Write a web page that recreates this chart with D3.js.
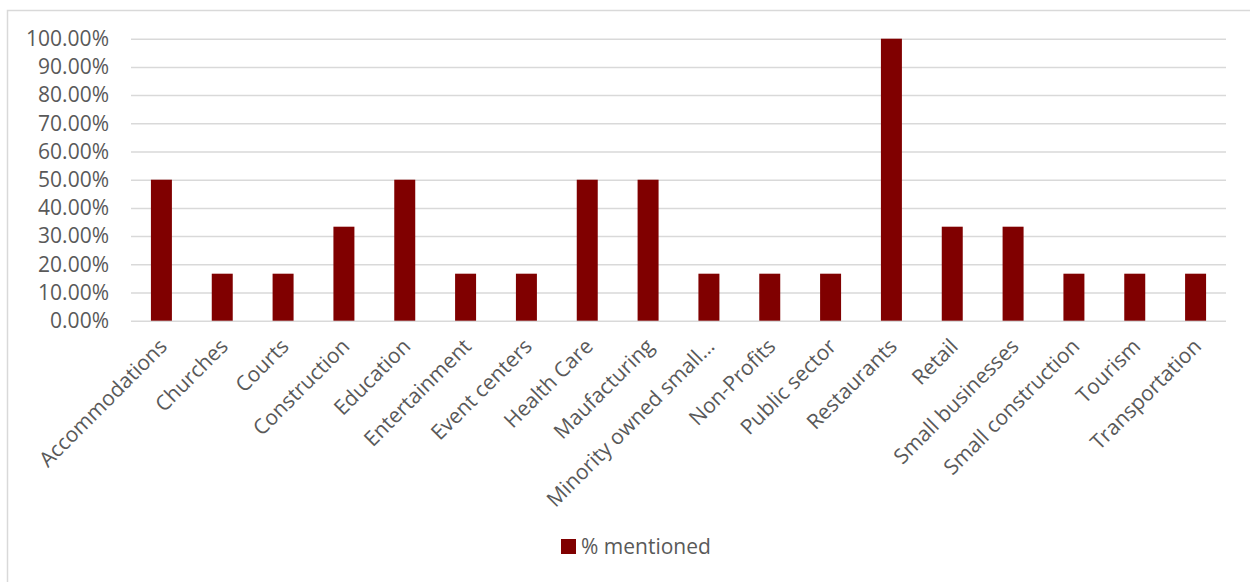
<!DOCTYPE html>
<html>
<head>
<meta charset="utf-8">
<script src="https://cdn.jsdelivr.net/npm/d3@7"></script>
<style>
  html, body { margin: 0; padding: 0; background: #fff; }
  svg { display: block; }
  text { font-family: "Open Sans", "Noto Sans", sans-serif; fill: #595959; }
</style>
</head>
<body>
<svg id="chart" width="1250" height="582"></svg>
<script>
// Sectors and the share of respondents who mentioned each one
const categories = [
  "Accommodations", "Churches", "Courts", "Construction", "Education",
  "Entertainment", "Event centers", "Health Care", "Maufacturing",
  "Minority owned small\u2026", "Non-Profits", "Public sector", "Restaurants",
  "Retail", "Small businesses", "Small construction", "Tourism", "Transportation"
];
const mentioned = [
  0.5, 1/6, 1/6, 1/3, 0.5,
  1/6, 1/6, 0.5, 0.5,
  1/6, 1/6, 1/6, 1.0,
  1/3, 1/3, 1/6, 1/6, 1/6
];
const yTicks = [0, 0.1, 0.2, 0.3, 0.4, 0.5, 0.6, 0.7, 0.8, 0.9, 1.0];
const seriesName = "% mentioned";

const W = 1250, H = 582;
const plot = { left: 131, right: 1226, top: 38.7, bottom: 320.7 };
const barColor = "#800000";
const gridColor = "#d9d9d9";
const fontSize = 21;

const svg = d3.select("#chart");

// chart frame
svg.append("rect")
  .attr("x", 7.5).attr("y", 10.5)
  .attr("width", W).attr("height", H)
  .attr("fill", "none").attr("stroke", gridColor).attr("stroke-width", 1.5);

const x = d3.scaleBand()
  .domain(categories)
  .range([plot.left, plot.right])
  .paddingInner(0.655).paddingOuter(0.3275);

const y = d3.scaleLinear().domain([0, 1]).range([plot.bottom, plot.top]);

// horizontal gridlines + value labels
const yAxis = d3.axisLeft(y)
  .tickValues(yTicks)
  .tickFormat(d3.format(".2%"))
  .tickSize(-(plot.right - plot.left))
  .tickPadding(22);

const gy = svg.append("g")
  .attr("transform", `translate(${plot.left},0)`)
  .call(yAxis);
gy.select(".domain").remove();
gy.selectAll(".tick line").attr("stroke", gridColor).attr("stroke-width", 1.5);
gy.selectAll(".tick text")
  .attr("font-size", fontSize)
  .attr("fill", "#595959")
  .attr("font-family", "'Open Sans', sans-serif");

// bars
svg.append("g").selectAll("rect")
  .data(categories)
  .join("rect")
  .attr("x", d => x(d))
  .attr("width", x.bandwidth())
  .attr("y", (d, i) => y(mentioned[i]))
  .attr("height", (d, i) => y(0) - y(mentioned[i]))
  .attr("fill", barColor);

// category labels, slanted
const xAxis = d3.axisBottom(x).tickSize(0).tickPadding(0);
const gx = svg.append("g")
  .attr("transform", `translate(0,${plot.bottom})`)
  .call(xAxis);
gx.select(".domain").remove();
gx.selectAll(".tick text")
  .attr("font-size", fontSize)
  .attr("fill", "#595959")
  .attr("font-family", "'Open Sans', sans-serif")
  .attr("text-anchor", "end")
  .attr("dy", null)
  .attr("y", null)
  .attr("transform", "translate(7,27) rotate(-45)");

// legend
const lg = svg.append("g").attr("transform", "translate(561,539)");
lg.append("rect").attr("width", 15).attr("height", 15).attr("fill", barColor);
lg.append("text")
  .attr("x", 20).attr("y", 15)
  .attr("font-size", fontSize)
  .text(seriesName);
</script>
</body>
</html>
